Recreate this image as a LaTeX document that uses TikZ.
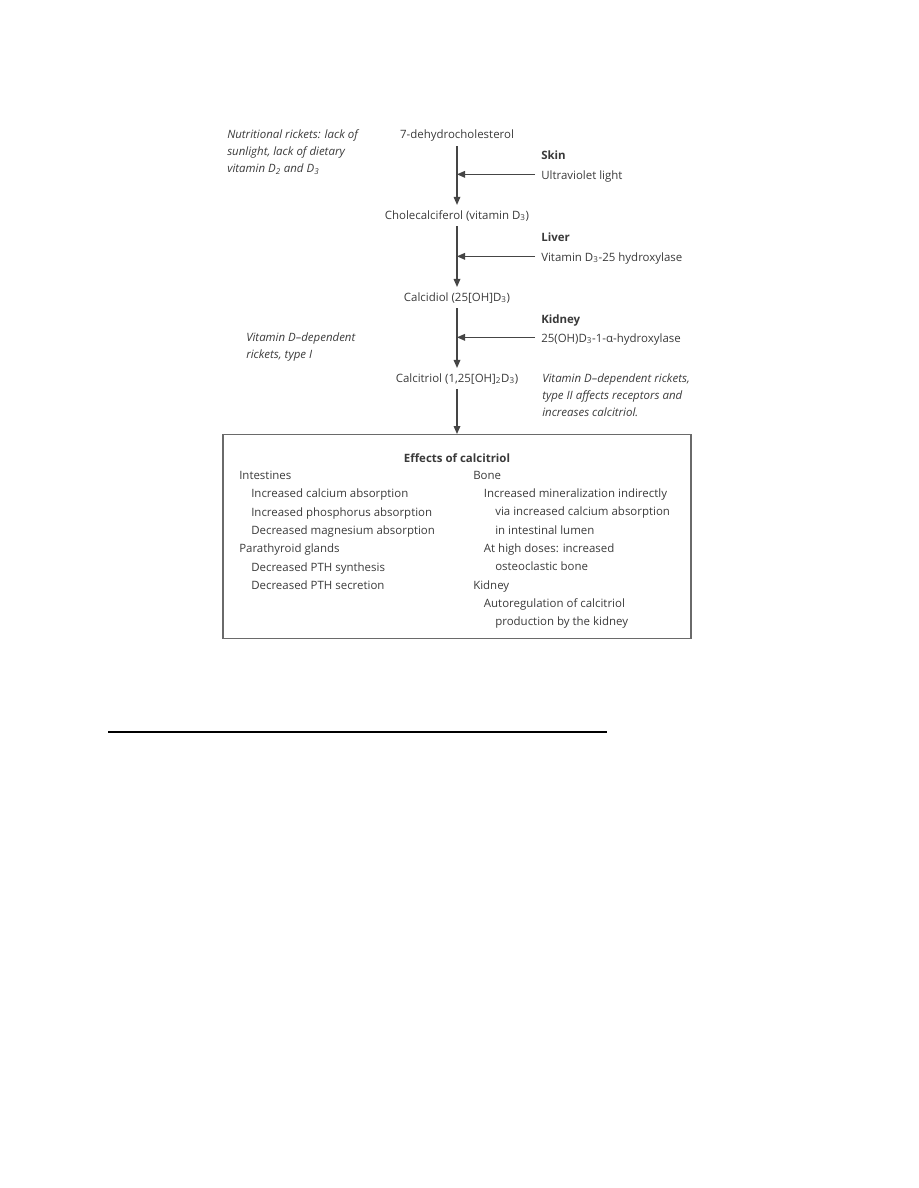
\documentclass[tikz,border=0pt]{standalone}
\usepackage{fontspec}
\setmainfont{Open Sans}
\usepackage{xcolor}
\usetikzlibrary{arrows.meta}
\definecolor{inkgray}{HTML}{3A3A3A}
\definecolor{linegray}{HTML}{454545}
\definecolor{boxgray}{HTML}{6A6A6A}

\newcommand{\diagfont}{\fontsize{8.6}{13.7}\selectfont}
\newcommand{\notefont}{\fontsize{8.6}{12.8}\selectfont\itshape}

\tikzset{
  every node/.style={text=inkgray, font=\diagfont},
  chem/.style={anchor=base, inner sep=3.8pt},
  enzyme/.style={anchor=base west, inner xsep=4.5pt, inner ysep=0pt},
  note/.style={anchor=north west, inner sep=0pt, align=left, font=\notefont},
  column/.style={anchor=north west, inner sep=0pt, align=left},
  flow/.style={linegray, line width=0.9pt, -{Triangle[length=6pt,width=5pt]}},
  effectbox/.style={draw=boxgray, line width=1.1pt, minimum width=351pt, minimum height=153pt, anchor=north}
}

\begin{document}
\begin{tikzpicture}[x=0.75pt, y=-0.75pt]

\useasboundingbox (0,0) rectangle (918,1188);

% Main pathway
\node[chem] (dehydro) at (457,138) {7-dehydrocholesterol};
\node[chem] (chole) at (457,219) {Cholecalciferol (vitamin D\textsubscript{3})};
\node[chem] (calcidiol) at (457,301) {Calcidiol (25[OH]D\textsubscript{3})};
\node[chem] (calcitriol) at (457,382) {Calcitriol (1,25[OH]\textsubscript{2}D\textsubscript{3})};

\draw[flow] (dehydro.south) -- (chole.north);
\draw[flow] (chole.south) -- (calcidiol.north);
\draw[flow] (calcidiol.south) -- (calcitriol.north);

% ---------- Skin ----------
\node[enzyme] (skin) at (535,159) {\textbf{Skin}};
\node[enzyme] (uv) at (535,179) {Ultraviolet light};
\coordinate (uvin) at ([yshift=3.5pt]uv.base west);
\draw[flow] (uvin) -- (uvin -| dehydro.south);

% ---------- Liver ----------
\node[enzyme] (liver) at (535,241) {\textbf{Liver}};
\node[enzyme] (hydro25) at (535,261) {Vitamin D\textsubscript{3}-25 hydroxylase};
\coordinate (hydro25in) at ([yshift=3.5pt]hydro25.base west);
\draw[flow] (hydro25in) -- (hydro25in -| chole.south);

% ---------- Kidney ----------
\node[enzyme] (kidney) at (535,323) {\textbf{Kidney}};
\node[enzyme] (hydro1a) at (535,342) {25(OH)D\textsubscript{3}-1-α-hydroxylase};
\coordinate (hydro1ain) at ([yshift=3.5pt]hydro1a.base west);
\draw[flow] (hydro1ain) -- (hydro1ain -| calcidiol.south);

% Rickets notes
\node[note] (nutri) at (227,129.5) {Nutritional rickets: lack of\\ sunlight, lack of dietary\\ vitamin D\textsubscript{2} and D\textsubscript{3}};
\node[note] (typeone) at (246,332.5) {Vitamin D--dependent\\ rickets, type I};
\node[note] (typetwo) at (542,373.5) {Vitamin D--dependent rickets,\\ type II affects receptors and\\ increases calcitriol.};

% ---------- Effects ----------
\node[effectbox] (effects) at (457,434) {};
\draw[flow] (calcitriol.south) -- (calcitriol.south |- effects.north);

\node[anchor=base, inner sep=0pt] (title) at (457,462) {\textbf{Effects of calcitriol}};

\node[column] (leftcol) at (239,471) {
    Intestines\\
    \hspace*{9pt}Increased calcium absorption\\
    \hspace*{9pt}Increased phosphorus absorption\\
    \hspace*{9pt}Decreased magnesium absorption\\
    Parathyroid glands\\
    \hspace*{9pt}Decreased PTH synthesis\\
    \hspace*{9pt}Decreased PTH secretion};

\node[column] (rightcol) at (473,471) {
    Bone\\
    \hspace*{8pt}Increased mineralization indirectly\\
    \hspace*{16.5pt}via increased calcium absorption\\
    \hspace*{16.5pt}in intestinal lumen\\
    \hspace*{8pt}At high doses: increased\\
    \hspace*{16.5pt}osteoclastic bone\\
    Kidney\\
    \hspace*{8pt}Autoregulation of calcitriol\\
    \hspace*{16.5pt}production by the kidney};

% Rule below figure
\draw[black, line width=2.2pt] (108,732) -- (607,732);

\end{tikzpicture}
\end{document}
